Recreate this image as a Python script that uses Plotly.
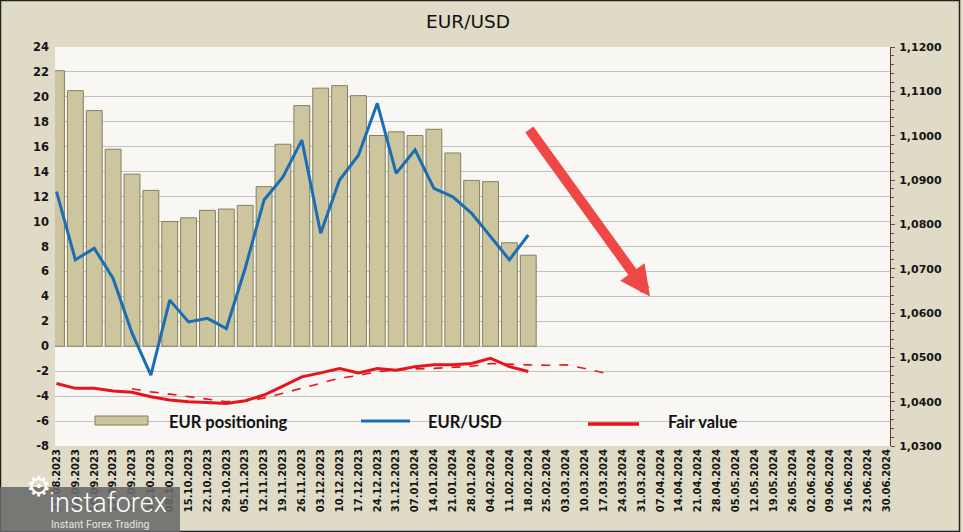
import plotly.graph_objects as go

# weekly categories on the x axis
weeks = [
    "27.08.2023", "03.09.2023", "10.09.2023", "17.09.2023", "24.09.2023",
    "01.10.2023", "08.10.2023", "15.10.2023", "22.10.2023", "29.10.2023",
    "05.11.2023", "12.11.2023", "19.11.2023", "26.11.2023", "03.12.2023",
    "10.12.2023", "17.12.2023", "24.12.2023", "31.12.2023", "07.01.2024",
    "14.01.2024", "21.01.2024", "28.01.2024", "04.02.2024", "11.02.2024",
    "18.02.2024", "25.02.2024", "03.03.2024", "10.03.2024", "17.03.2024",
    "24.03.2024", "31.03.2024", "07.04.2024", "14.04.2024", "21.04.2024",
    "28.04.2024", "05.05.2024", "12.05.2024", "19.05.2024", "26.05.2024",
    "02.06.2024", "09.06.2024", "16.06.2024", "23.06.2024", "30.06.2024",
]

# left axis ticks (plain hyphen for negatives, as in the original)
left_ticks = [-8, -6, -4, -2, 0, 2, 4, 6, 8, 10, 12, 14, 16, 18, 20, 22, 24]
left_labels = ["-8", "-6", "-4", "-2", "0", "2", "4", "6", "8", "10", "12",
               "14", "16", "18", "20", "22", "24"]

# EUR net positioning (left axis), 27.08.2023 .. 18.02.2024
positioning = [22.1, 20.5, 18.9, 15.8, 13.8, 12.5, 10.0, 10.3, 10.9, 11.0,
               11.3, 12.8, 16.2, 19.3, 20.7, 20.9, 20.1, 16.9, 17.2, 16.9,
               17.4, 15.5, 13.3, 13.2, 8.3, 7.3]

# EUR/USD close (right axis)
eurusd = [1.0874, 1.0720, 1.0746, 1.0678, 1.0555, 1.0460, 1.0629, 1.0580,
          1.0588, 1.0565, 1.0701, 1.0855, 1.0907, 1.0990, 1.0780, 1.0900,
          1.0956, 1.1073, 1.0915, 1.0968, 1.0881, 1.0862, 1.0825, 1.0772,
          1.0720, 1.0776]

# fair value (right axis)
fair_value = [1.0441, 1.0430, 1.0430, 1.0424, 1.0421, 1.0411, 1.0404, 1.0400,
              1.0398, 1.0396, 1.0402, 1.0415, 1.0435, 1.0456, 1.0465, 1.0475,
              1.0465, 1.0475, 1.0471, 1.0479, 1.0483, 1.0483, 1.0486, 1.0498,
              1.0479, 1.0468]

# dashed fair value trend, 24.09.2023 .. 17.03.2024
trend_weeks = weeks[4:30]
fair_trend = [1.0429, 1.0422, 1.0417, 1.0411, 1.0405, 1.0400, 1.0401, 1.0408,
              1.0419, 1.0430, 1.0441, 1.0453, 1.0459, 1.0468, 1.0471, 1.0474,
              1.0475, 1.0477, 1.0480, 1.0486, 1.0484, 1.0483, 1.0482, 1.0483,
              1.0475, 1.0465]

BAR = "#ccc59d"
BAR_EDGE = "#85805f"
BLUE = "#1b6db4"
RED = "#e8141c"
TICK_FONT = dict(family="DejaVu Sans", size=11, color="#151515", weight="bold")

# plot area in pixels, used to place the hand-made legend
L, R, T, B = 55, 890, 47, 446


def px(x):
    return (x - L) / (R - L)


def py(y):
    return (B - y) / (B - T)


fig = go.Figure()

fig.add_trace(go.Bar(
    x=weeks[:len(positioning)], y=positioning, name="EUR positioning",
    marker=dict(color=BAR, line=dict(color=BAR_EDGE, width=1)),
    width=0.84, yaxis="y",
))
fig.add_trace(go.Scatter(
    x=trend_weeks, y=fair_trend, mode="lines", yaxis="y2",
    line=dict(color=RED, width=1.6, dash="dash"), showlegend=False,
))
fig.add_trace(go.Scatter(
    x=weeks[:len(fair_value)], y=fair_value, mode="lines", name="Fair value",
    line=dict(color=RED, width=3), yaxis="y2",
))
fig.add_trace(go.Scatter(
    x=weeks[:len(eurusd)], y=eurusd, mode="lines", name="EUR/USD",
    line=dict(color=BLUE, width=3), yaxis="y2",
))

fig.update_layout(
    width=963, height=532,
    margin=dict(l=L, r=963 - R, t=T, b=532 - B),
    paper_bgcolor="#dfdbc6",
    plot_bgcolor="#f8f7f3",
    separators=", ",
    showlegend=False,
    title=dict(text="EUR/USD", x=468 / 963, xanchor="center", xref="container",
               y=1 - 21.5 / 532, yanchor="middle", yref="container",
               font=dict(family="DejaVu Sans", size=18.5, color="#111")),
    xaxis=dict(
        type="category", categoryorder="array", categoryarray=weeks,
        range=[-0.08, 44.17], tickangle=-90, tickfont=dict(TICK_FONT, size=10),
        showgrid=False, showline=False, ticks="",
    ),
    yaxis=dict(
        range=[-8, 24], tickvals=left_ticks, ticktext=left_labels,
        tickfont=dict(TICK_FONT, size=11.5), showgrid=True,
        gridcolor="#c2c2c2", gridwidth=1, zeroline=False, ticks="",
        ticklabelstandoff=5,
    ),
    yaxis2=dict(
        range=[1.03, 1.12], dtick=0.01, tickformat=".4f", overlaying="y",
        side="right", showgrid=False, zeroline=False, tickfont=TICK_FONT,
        showline=True, linecolor="#7a2e2e", linewidth=1,
        ticks="outside", ticklen=4, tickcolor="#555", ticklabelstandoff=2,
        minor=dict(dtick=0.002, ticks="outside", ticklen=3, tickcolor="#555"),
    ),
)

# big red arrow pointing down
fig.add_annotation(
    x=31.45, y=4.0, xref="x", yref="y", ax=25.0, ay=17.5, axref="x", ayref="y",
    text="", showarrow=True, arrowhead=2, arrowsize=0.6, arrowwidth=10,
    arrowcolor="#ef4646",
)

# legend drawn by hand, as in the original
fig.add_shape(type="rect", xref="paper", yref="paper",
              x0=px(95), x1=px(148), y0=py(425), y1=py(416),
              fillcolor=BAR, line=dict(color=BAR_EDGE, width=1))
fig.add_shape(type="line", xref="paper", yref="paper",
              x0=px(361), x1=px(410), y0=py(421), y1=py(421),
              line=dict(color=BLUE, width=3))
fig.add_shape(type="line", xref="paper", yref="paper",
              x0=px(588), x1=px(639), y0=py(424), y1=py(424),
              line=dict(color=RED, width=3.5))
legend_font = dict(family="Lato", size=16.5, color="#111", weight="bold")
for label, x0 in [("EUR positioning", 167), ("EUR/USD", 426), ("Fair value", 666)]:
    fig.add_annotation(text=label, x=px(x0), y=py(421.5), xref="paper", yref="paper",
                       xanchor="left", yanchor="middle", showarrow=False,
                       font=legend_font)

# watermark at the bottom-left corner
fig.add_shape(type="rect", xref="paper", yref="paper",
              x0=px(0), x1=px(180), y0=py(532), y1=py(487),
              fillcolor="rgba(105,105,105,0.88)", line=dict(width=0), layer="above")
fig.add_annotation(text="⚙", x=px(24), y=py(505), xref="paper", yref="paper",
                   showarrow=False, font=dict(family="DejaVu Sans", size=28, color="white"))
fig.add_annotation(text="instaforex", x=px(47), y=py(503), xref="paper", yref="paper",
                   xanchor="left", yanchor="middle", showarrow=False,
                   font=dict(family="Roboto", size=27, color="white", weight=300))
fig.add_annotation(text="Instant Forex Trading", x=px(49), y=py(524.5), xref="paper",
                   yref="paper", xanchor="left", yanchor="middle", showarrow=False,
                   font=dict(family="Roboto", size=10.5, color="#e6e6e6"))

# thin dark frame around the picture
fig.add_shape(type="rect", xref="paper", yref="paper",
              x0=px(0.5), x1=px(959.5), y0=py(531.5), y1=py(0.5),
              line=dict(color="#222", width=1.5), layer="below")

# the page should not add its own margin around the figure
fig.write_html("out.html", config={"displayModeBar": False},
               post_script="document.body.style.margin = '0px';")
